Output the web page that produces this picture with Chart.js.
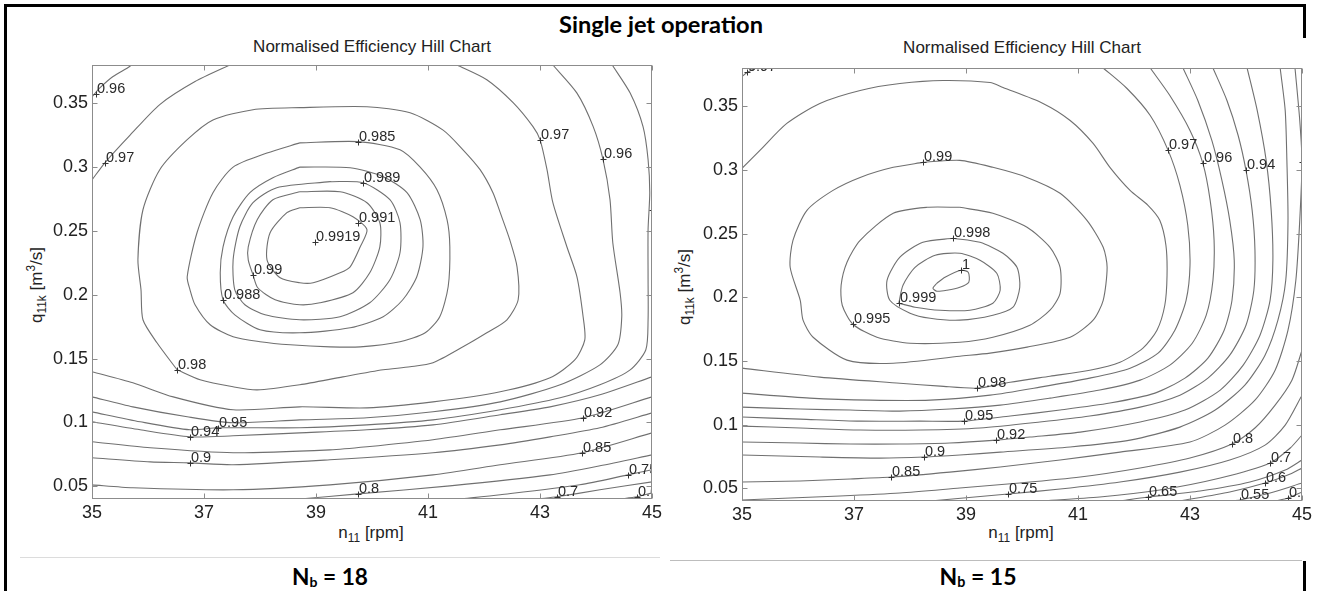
<!DOCTYPE html>
<html>
<head>
<meta charset="utf-8">
<script src="https://cdn.jsdelivr.net/npm/chart.js@4.4.1/dist/chart.umd.min.js"></script>
<style>
  html, body { margin: 0; padding: 0; background: #fff; }
  body { width: 1320px; height: 591px; overflow: hidden; position: relative; }
  .bl { position: absolute; background: #000; }
  .sep { position: absolute; height: 1px; }
  .wrap { position: absolute; }
  .t { position: absolute; white-space: nowrap; line-height: 1; color: #222; }
  .hdr, .cap { font-family: Lato, "Open Sans", sans-serif; font-weight: 700; color: #000; }
  .ct, .xt { font-family: "Liberation Sans", Arial, sans-serif; font-size: 17px; }
  .yt { position: absolute; white-space: nowrap; line-height: 1; color: #222;
        font-family: "Liberation Sans", Arial, sans-serif; font-size: 17px;
        transform: translate(-50%, -50%) rotate(-90deg); }
  sub { font-size: 70%; vertical-align: -0.35em; line-height: 0; }
  sup { font-size: 70%; vertical-align: 0.55em; line-height: 0; }
  .cap sub { font-size: 62%; vertical-align: -0.12em; }
</style>
</head>
<body>
<div class="bl" style="left:4px;top:4px;width:1302px;height:3px"></div>
<div class="bl" style="left:4px;top:4px;width:3px;height:587px"></div>
<div class="bl" style="left:1303px;top:4px;width:3px;height:34px"></div>
<div class="bl" style="left:1303px;top:561px;width:3px;height:30px"></div>
<div class="sep" style="left:20px;top:557px;width:640px;background:#dcdcdc"></div>
<div class="sep" style="left:670px;top:560px;width:632px;background:#bdbdbd"></div>

<div class="t hdr" id="hdr">Single jet operation</div>
<div class="t cap" id="cap1">N<sub>b</sub> = 18</div>
<div class="t cap" id="cap2">N<sub>b</sub> = 15</div>
<div class="t ct" id="ct1">Normalised Efficiency Hill Chart</div>
<div class="t ct" id="ct2">Normalised Efficiency Hill Chart</div>
<div class="t xt" id="xt1">n<sub>11</sub> [rpm]</div>
<div class="t xt" id="xt2">n<sub>11</sub> [rpm]</div>
<div class="yt" style="left:36px;top:285px">q<sub>11k</sub> [m<sup>3</sup>/s]</div>
<div class="yt" style="left:684px;top:287px">q<sub>11k</sub> [m<sup>3</sup>/s]</div>

<div class="wrap" style="left:32px;top:25px"><canvas id="chartLeft" width="635" height="549" style="width:635px;height:549px"></canvas></div>
<div class="wrap" style="left:682px;top:28px"><canvas id="chartRight" width="635" height="548" style="width:635px;height:548px"></canvas></div>

<script>
// axis ticks (n11 in rpm, q11k in m3/s)
const xTicks = [35, 37, 39, 41, 43, 45];
const yTicks = [0.05, 0.1, 0.15, 0.2, 0.25, 0.3, 0.35];

// ---- Nb = 18 contours, points are [n11, q11k] ----
const L096corner = [[35.00,0.355],[35.14,0.362],[35.375,0.371],[35.68,0.379],[35.70,0.381]];
const L097corner = [[35.00,0.290],[35.23,0.3034],[35.68,0.325],[36.21,0.349],[36.84,0.367],[37.46,0.380]];
const L097 = [[41.52,0.380],[42.05,0.3685],[42.52,0.3505],[42.875,0.3317],[43.00,0.3215],[43.125,0.298],[43.23,0.2721],[43.48,0.2376],[43.66,0.2141],[43.77,0.1828],[43.80,0.1647],[43.625,0.1491],[43.18,0.135],[42.29,0.124],[41.09,0.1161],[39.91,0.1114],[38.71,0.1122],[37.52,0.1099],[36.45,0.120],[35.73,0.131],[35.00,0.1397]];
const L096 = [[43.23,0.380],[43.66,0.358],[43.95,0.3317],[44.125,0.306],[44.25,0.2745],[44.30,0.2408],[44.43,0.2016],[44.46,0.1828],[44.39,0.1608],[44.07,0.1451],[43.36,0.1295],[42.29,0.1161],[41.09,0.1083],[39.91,0.1036],[38.71,0.102],[37.52,0.0997],[36.70,0.1044],[35.73,0.1122],[35.00,0.120]];
const L095 = [[44.29,0.380],[44.61,0.358],[44.84,0.3317],[44.93,0.306],[44.96,0.280],[44.93,0.251],[44.93,0.2118],[44.93,0.1804],[44.89,0.1569],[44.61,0.1412],[44.07,0.1295],[43.36,0.1193],[42.29,0.1099],[41.09,0.102],[39.91,0.0981],[38.71,0.0958],[37.25,0.0958],[36.75,0.0942],[35.86,0.1005],[35.00,0.1083]];
const L094 = [[45.00,0.1357],[44.07,0.1216],[43.18,0.1122],[42.29,0.106],[41.09,0.0981],[39.91,0.0942],[38.71,0.0918],[37.52,0.0895],[36.75,0.0887],[35.86,0.0942],[35.00,0.1005]];
const L092 = [[45.00,0.120],[43.77,0.1036],[42.29,0.0942],[41.09,0.0864],[39.91,0.0809],[39.25,0.0785],[37.52,0.0762],[36.04,0.0801],[35.00,0.0848]];
const L090 = [[45.00,0.1075],[44.07,0.0958],[43.18,0.0887],[42.29,0.0824],[41.09,0.0762],[39.25,0.0707],[37.52,0.0668],[36.75,0.0683],[36.04,0.0691],[35.00,0.0723]];
const L085 = [[45.00,0.0918],[43.75,0.0762],[42.29,0.0668],[41.09,0.0589],[39.25,0.0511],[37.52,0.0472],[35.73,0.0488],[35.00,0.0511]];
const L080 = [[45.00,0.0746],[44.07,0.066],[43.18,0.0589],[41.39,0.0503],[39.75,0.044],[38.71,0.040]];
const L075 = [[45.00,0.0629],[44.57,0.0589],[43.71,0.0511],[42.29,0.0433],[41.57,0.040]];
const L070 = [[45.00,0.0534],[44.07,0.0472],[43.30,0.0417],[43.00,0.040]];
const L065 = [[45.00,0.0448],[44.73,0.0417],[44.43,0.040]];
const L098 = [[36.52,0.1412],[36.16,0.1624],[35.91,0.1804],[35.875,0.2039],[35.82,0.2274],[35.91,0.2666],[36.21,0.298],[36.70,0.3215],[37.16,0.337],[37.875,0.345],[38.71,0.3466],[39.91,0.3473],[40.68,0.3426],[41.27,0.329],[41.625,0.3136],[41.93,0.298],[42.16,0.280],[42.29,0.2643],[42.46,0.2431],[42.59,0.2219],[42.61,0.1961],[42.41,0.1804],[42.05,0.1702],[41.625,0.1592],[41.09,0.1467],[40.68,0.1436],[40.20,0.1412],[39.48,0.1357],[38.71,0.1295],[37.95,0.1255],[37.52,0.1279],[36.93,0.1334],[36.52,0.1412]];
const L0985 = [[38.71,0.319],[39.75,0.320],[40.50,0.3136],[40.86,0.300],[41.16,0.2823],[41.34,0.2588],[41.39,0.2376],[41.36,0.2063],[41.21,0.1828],[40.95,0.1702],[40.50,0.1632],[39.79,0.1592],[39.25,0.1592],[38.54,0.1608],[38.00,0.1632],[37.52,0.1671],[37.11,0.1765],[36.84,0.1922],[36.75,0.2039],[36.70,0.2141],[36.875,0.2486],[37.16,0.280],[37.52,0.300],[38.125,0.311],[38.71,0.319]];
const L0988 = [[38.71,0.300],[39.61,0.2995],[40.20,0.2925],[40.625,0.280],[40.86,0.2588],[40.91,0.2376],[40.80,0.2141],[40.55,0.1961],[40.20,0.1828],[39.61,0.1741],[38.71,0.1702],[38.00,0.1726],[37.55,0.1843],[37.34,0.1961],[37.29,0.2172],[37.34,0.2376],[37.52,0.2611],[37.82,0.280],[38.23,0.2917],[38.71,0.300]];
const L0989 = [[39.25,0.2886],[39.84,0.2878],[40.32,0.2745],[40.50,0.2564],[40.50,0.2329],[40.32,0.2118],[39.96,0.1937],[39.43,0.1828],[38.71,0.1804],[38.09,0.1843],[37.73,0.1922],[37.55,0.2039],[37.52,0.2274],[37.64,0.2533],[37.875,0.2721],[38.30,0.2839],[39.25,0.2886]];
const L099 = [[38.71,0.2807],[39.43,0.2807],[39.91,0.2721],[40.14,0.2564],[40.14,0.2376],[39.96,0.2172],[39.66,0.2016],[39.07,0.1937],[38.71,0.1922],[38.27,0.1961],[37.96,0.2055],[37.875,0.2157],[37.79,0.2274],[37.79,0.2376],[37.95,0.2588],[38.23,0.2745],[38.71,0.2807]];
const L0991 = [[38.71,0.2682],[39.25,0.2682],[39.66,0.2611],[39.91,0.251],[39.79,0.2376],[39.61,0.2219],[39.43,0.2172],[38.95,0.2094],[38.71,0.2094],[38.36,0.2133],[38.125,0.2274],[38.18,0.2486],[38.48,0.2643],[38.71,0.2682]];

const leftLines = [L096corner, L097corner, L097, L096, L095, L094, L092, L090, L085, L080, L075, L070, L065,
                   L098, L0985, L0988, L0989, L099, L0991];

// contour labels: [n11, q11k, text]
const leftLabels = [
  [35.07, 0.3575, '0.96'], [35.23, 0.3034, '0.97'], [43.00, 0.3215, '0.97'], [44.125, 0.306, '0.96'],
  [45.00, 0.2666, '0.95'], [39.75, 0.320, '0.985'], [39.84, 0.2878, '0.989'], [39.75, 0.2564, '0.991'],
  [38.98, 0.2415, '0.9919'], [37.875, 0.2157, '0.99'], [37.34, 0.1961, '0.988'], [36.52, 0.1412, '0.98'],
  [37.25, 0.0958, '0.95'], [36.75, 0.0887, '0.94'], [36.75, 0.0683, '0.9'], [43.77, 0.1036, '0.92'],
  [43.75, 0.0762, '0.85'], [39.75, 0.044, '0.8'], [44.57, 0.0589, '0.75'], [43.30, 0.0417, '0.7'],
  [44.73, 0.0417, '0.65']
];

// ---- Nb = 15 contours ----
const R097corner = [[35.00,0.3733],[35.09,0.3765],[35.25,0.380]];
const R098 = [[35.00,0.3012],[35.32,0.3153],[35.80,0.3365],[36.39,0.3522],[37.11,0.3624],[37.82,0.3678],[38.59,0.3702],[39.43,0.3686],[39.66,0.3647],[40.375,0.3522],[40.86,0.3388],[41.27,0.3208],[41.57,0.302],[41.93,0.2839],[42.25,0.2722],[42.46,0.2604],[42.57,0.2408],[42.59,0.2173],[42.55,0.1937],[42.41,0.1741],[42.16,0.160],[41.75,0.149],[41.21,0.1427],[40.50,0.138],[39.79,0.1333],[39.20,0.1286],[38.54,0.1302],[37.82,0.1325],[36.39,0.1373],[35.00,0.1443]];
const R097 = [[41.45,0.380],[41.875,0.3639],[42.29,0.3427],[42.61,0.3153],[42.82,0.2878],[42.96,0.2565],[43.00,0.2251],[42.93,0.1976],[42.73,0.1741],[42.43,0.1561],[41.93,0.1443],[41.21,0.1365],[40.32,0.1294],[39.43,0.1231],[38.36,0.1192],[37.29,0.1192],[36.21,0.1208],[35.00,0.1247]];
const R096 = [[42.29,0.380],[42.64,0.3584],[43.00,0.331],[43.23,0.3051],[43.36,0.2761],[43.43,0.2447],[43.41,0.2133],[43.29,0.1859],[43.04,0.1639],[42.64,0.1467],[42.11,0.1349],[41.39,0.1271],[40.50,0.1208],[39.61,0.1153],[38.71,0.1122],[37.82,0.1106],[36.93,0.1114],[36.04,0.1122],[35.00,0.1137]];
const R095 = [[42.875,0.380],[43.14,0.3545],[43.39,0.3231],[43.57,0.2918],[43.71,0.2604],[43.79,0.229],[43.75,0.1976],[43.61,0.1741],[43.32,0.1522],[42.91,0.1365],[42.375,0.1247],[41.57,0.1169],[40.68,0.1114],[39.79,0.1067],[38.96,0.1027],[38.18,0.1027],[37.11,0.1027],[36.04,0.1043],[35.00,0.1059]];
const R094 = [[43.41,0.380],[43.66,0.3545],[43.86,0.327],[44.00,0.2996],[44.11,0.2682],[44.16,0.2369],[44.14,0.2055],[44.00,0.178],[43.71,0.1545],[43.32,0.1365],[42.82,0.1231],[42.11,0.1137],[41.21,0.1067],[40.32,0.102],[39.25,0.0973],[38.18,0.0957],[37.11,0.0957],[36.04,0.0973],[35.00,0.0988]];
const R092 = [[44.02,0.380],[44.20,0.3467],[44.36,0.3075],[44.45,0.2682],[44.48,0.229],[44.43,0.1976],[44.25,0.1702],[43.95,0.1467],[43.54,0.1271],[42.91,0.1114],[42.11,0.102],[41.04,0.0941],[40.14,0.0902],[39.54,0.0878],[38.71,0.0855],[37.82,0.0847],[36.93,0.0847],[36.04,0.0855],[35.00,0.0863]];
const R090 = [[44.61,0.380],[44.70,0.3467],[44.73,0.3075],[44.75,0.2604],[44.71,0.2133],[44.57,0.182],[44.34,0.1545],[43.98,0.131],[43.45,0.1114],[42.82,0.098],[41.93,0.0878],[40.86,0.0824],[39.61,0.0784],[38.89,0.0761],[38.25,0.0745],[37.46,0.0737],[36.39,0.0745],[35.00,0.0761]];
const R085 = [[44.875,0.380],[44.96,0.3388],[45.00,0.3059],[44.96,0.2604],[44.89,0.2133],[44.75,0.1741],[44.52,0.1427],[44.16,0.1192],[43.625,0.0996],[43.00,0.0863],[41.75,0.0784],[40.68,0.0722],[39.61,0.0667],[38.71,0.0627],[37.66,0.0588],[36.93,0.0573],[36.04,0.0557],[35.00,0.0549]];
const R080 = [[45.00,0.1584],[44.82,0.1349],[44.52,0.1153],[44.16,0.0973],[43.75,0.0847],[43.00,0.0737],[42.11,0.0659],[41.04,0.0588],[39.96,0.0541],[38.89,0.0502],[37.82,0.0463],[36.75,0.0439],[35.86,0.0424],[35.00,0.0408]];
const R075 = [[38.36,0.040],[39.75,0.0455],[40.68,0.0494],[41.75,0.0549],[42.82,0.0627],[43.71,0.0722],[44.34,0.0839],[44.70,0.0996],[45.00,0.1231]];
const R070 = [[40.32,0.040],[41.39,0.0431],[42.46,0.0486],[43.54,0.058],[44.43,0.0698],[44.79,0.0816],[45.00,0.0918]];
const R065 = [[41.75,0.040],[42.25,0.0431],[43.18,0.0478],[44.07,0.0549],[44.70,0.0643],[45.00,0.0722]];
const R060 = [[42.82,0.040],[43.71,0.0471],[44.34,0.0541],[44.79,0.0612],[45.00,0.0659]];
const R055 = [[43.71,0.040],[43.89,0.0408],[44.43,0.0463],[45.00,0.0541]];
const R050 = [[44.52,0.040],[44.75,0.0424],[45.00,0.0471]];
const R099 = [[38.23,0.3059],[38.89,0.3075],[39.48,0.302],[40.09,0.2941],[40.68,0.2816],[41.16,0.2604],[41.45,0.2392],[41.52,0.2235],[41.45,0.1976],[41.27,0.182],[40.86,0.1686],[40.09,0.1608],[39.43,0.1561],[38.89,0.1537],[37.70,0.1482],[36.875,0.1506],[36.27,0.1686],[36.09,0.182],[36.04,0.1976],[35.86,0.2235],[35.91,0.2447],[36.16,0.2682],[36.625,0.2839],[37.11,0.2941],[37.70,0.302],[38.23,0.3059]];
const R0995 = [[38.89,0.2706],[39.48,0.2659],[40.09,0.2549],[40.50,0.2392],[40.68,0.2235],[40.68,0.2031],[40.50,0.1898],[40.14,0.178],[39.48,0.1686],[38.89,0.1647],[38.00,0.1639],[37.41,0.1686],[36.98,0.1788],[36.79,0.1937],[36.77,0.2094],[36.875,0.2275],[37.11,0.2447],[37.70,0.2659],[38.30,0.2706],[38.89,0.2706]];
const R0998 = [[38.77,0.2463],[39.25,0.2431],[39.66,0.2345],[39.91,0.2235],[39.96,0.2078],[39.84,0.1922],[39.48,0.1859],[38.89,0.182],[38.36,0.1835],[38.00,0.1875],[37.64,0.1976],[37.59,0.2133],[37.82,0.2314],[38.23,0.2431],[38.77,0.2463]];
const R0999 = [[37.80,0.1953],[37.875,0.2094],[38.09,0.2235],[38.45,0.2329],[38.89,0.2345],[39.25,0.229],[39.55,0.2188],[39.61,0.2055],[39.48,0.1953],[39.07,0.1898],[38.54,0.1898],[38.09,0.1922],[37.80,0.1953]];
const R100 = [[38.48,0.211],[38.625,0.2157],[38.91,0.2212],[39.04,0.2196],[39.05,0.2118],[38.89,0.2078],[38.66,0.2055],[38.48,0.2047],[38.41,0.2071],[38.48,0.211]];

const rightLines = [R097corner, R098, R097, R096, R095, R094, R092, R090, R085, R080, R075, R070, R065, R060, R055, R050,
                    R099, R0995, R0998, R0999, R100];

const rightLabels = [
  [35.09, 0.3765, '0.97'], [38.23, 0.3059, '0.99'], [38.77, 0.2463, '0.998'], [38.91, 0.2212, '1'],
  [37.80, 0.1953, '0.999'], [36.98, 0.1788, '0.995'], [42.61, 0.3153, '0.97'], [43.23, 0.3051, '0.96'],
  [44.00, 0.2996, '0.94'], [45.00, 0.3059, '0.85'], [39.20, 0.1286, '0.98'], [38.96, 0.1027, '0.95'],
  [39.54, 0.0878, '0.92'], [38.25, 0.0745, '0.9'], [37.66, 0.0588, '0.85'], [39.75, 0.0455, '0.75'],
  [42.25, 0.0431, '0.65'], [43.75, 0.0847, '0.8'], [44.43, 0.0698, '0.7'], [44.34, 0.0541, '0.6'],
  [43.89, 0.0408, '0.55'], [44.75, 0.0424, '0.5']
];

const FONT = '"Liberation Sans", Arial, Helvetica, sans-serif';
const LINE_COLOR = '#707070';
const FRAME_COLOR = '#8c8c8c';

// place a text so that its centre is at cx and its baseline at y (optionally scale it to a width)
function placeText(id, cx, baseline, width) {
    const el = document.getElementById(id);
    if (width) {
        el.style.fontSize = '20px';
        const w0 = el.getBoundingClientRect().width;
        el.style.fontSize = (20 * width / w0) + 'px';
    }
    const probe = document.createElement('span');
    probe.style.cssText = 'display:inline-block;width:0;height:0;vertical-align:baseline';
    el.appendChild(probe);
    const r = el.getBoundingClientRect();
    const off = probe.getBoundingClientRect().top - r.top;
    el.style.left = (cx - r.width / 2) + 'px';
    el.style.top = (baseline - off) + 'px';
    probe.remove();
}

placeText('hdr', 661, 33, 204);
placeText('cap1', 330, 585, 76);
placeText('cap2', 978, 585, 77);
placeText('ct1', 372, 52);
placeText('ct2', 1022, 53);
placeText('xt1', 371, 538);
placeText('xt2', 1021, 538);

// frame, inward ticks and the contour labels
function overlay(labels) {
    return {
        id: 'overlay',
        afterDatasetsDraw(chart) {
            const { ctx, chartArea: a, scales: { x, y } } = chart;
            ctx.save();
            ctx.beginPath();
            ctx.rect(a.left, a.top, a.right - a.left, a.bottom - a.top);
            ctx.clip();
            ctx.strokeStyle = '#333';
            ctx.fillStyle = '#2a2a2a';
            ctx.lineWidth = 1;
            ctx.font = '14.5px ' + FONT;
            ctx.textAlign = 'left';
            ctx.textBaseline = 'alphabetic';
            labels.forEach(([vx, vy, txt]) => {
                const px = Math.round(x.getPixelForValue(vx)) + 0.5;
                const py = Math.round(y.getPixelForValue(vy)) + 0.5;
                ctx.beginPath();
                ctx.moveTo(px - 3, py); ctx.lineTo(px + 3, py);
                ctx.moveTo(px, py - 3); ctx.lineTo(px, py + 3);
                ctx.stroke();
                ctx.fillText(txt, px + 0.5, py - 1.5);
            });
            ctx.restore();

            ctx.save();
            ctx.strokeStyle = FRAME_COLOR;
            ctx.lineWidth = 1;
            const L = Math.round(a.left) + 0.5, R = Math.round(a.right) - 0.5;
            const T = Math.round(a.top) + 0.5, B = Math.round(a.bottom) - 0.5;
            ctx.strokeRect(L, T, R - L, B - T);
            ctx.beginPath();
            xTicks.forEach(v => {
                const p = Math.round(x.getPixelForValue(v)) + 0.5;
                ctx.moveTo(p, B); ctx.lineTo(p, B - 5);
                ctx.moveTo(p, T); ctx.lineTo(p, T + 5);
            });
            yTicks.forEach(v => {
                const p = Math.round(y.getPixelForValue(v)) + 0.5;
                ctx.moveTo(L, p); ctx.lineTo(L + 5, p);
                ctx.moveTo(R, p); ctx.lineTo(R - 5, p);
            });
            ctx.stroke();
            ctx.restore();
        }
    };
}

function makeChart(canvasId, lines, labels) {
    const datasets = lines.map(pts => ({
        data: pts.map(p => ({ x: p[0], y: p[1] })),
        showLine: true,
        pointRadius: 0,
        borderColor: LINE_COLOR,
        borderWidth: 1.1,
        tension: 0.25,
        fill: false
    }));
    const tickFont = { family: FONT, size: 18 };
    return new Chart(document.getElementById(canvasId), {
        type: 'scatter',
        data: { datasets: datasets },
        options: {
            responsive: false,
            animation: false,
            events: [],
            layout: { padding: { top: 40, right: 15, left: 0, bottom: 0 } },
            plugins: { legend: { display: false }, tooltip: { enabled: false }, title: { display: false } },
            scales: {
                x: {
                    type: 'linear', min: 35, max: 45,
                    grid: { display: false, drawTicks: false },
                    border: { display: false },
                    afterBuildTicks: s => { s.ticks = xTicks.map(v => ({ value: v })); },
                    afterFit: s => { s.height = 75; },
                    ticks: { padding: 3, color: '#222', font: tickFont, maxRotation: 0, autoSkip: false,
                             callback: v => String(v) }
                },
                y: {
                    type: 'linear', min: 0.04, max: 0.38,
                    grid: { display: false, drawTicks: false },
                    border: { display: false },
                    afterBuildTicks: s => { s.ticks = yTicks.map(v => ({ value: v })); },
                    afterFit: s => { s.width = 60; },
                    ticks: { padding: 4, color: '#222', font: tickFont, autoSkip: false,
                             callback: v => String(+v.toFixed(2)) }
                }
            }
        },
        plugins: [overlay(labels)]
    });
}

makeChart('chartLeft', leftLines, leftLabels);
makeChart('chartRight', rightLines, rightLabels);
</script>
</body>
</html>
